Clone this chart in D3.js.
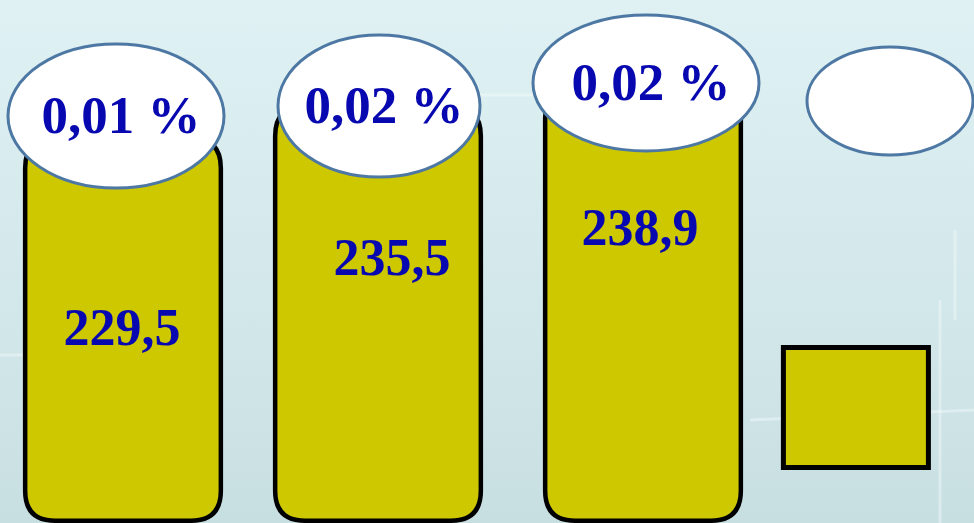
<!DOCTYPE html>
<html>
<head>
<meta charset="utf-8">
<script src="https://cdn.jsdelivr.net/npm/d3@7/dist/d3.min.js"></script>
<style>
  html, body { margin: 0; padding: 0; overflow: hidden; background: #d6eaed; }
  svg { display: block; }
</style>
</head>
<body>
<svg id="chart" width="974" height="523"></svg>
<script>
// ---- data ----
const categories = ["c1", "c2", "c3", "c4"];
const values = [229.5, 235.5, 238.9, null];
const valueLabels = ["229,5", "235,5", "238,9", ""];
const percentLabels = ["0,01 %", "0,02 %", "0,02 %", ""];

// ---- layout (decoration offsets, not data) ----
const barGrowLeft = [0, 10, 0, 0];
const capDx = [-7, -4, 3, -13];
const capDy = [-22, 0, -5, 0];
const capRx = [108, 101, 113, 83];
const capRy = [72, 71, 68, 54];
const labelDx = [-1, 9, -3, 0];
const labelDy = [207, 169, 157, 0];

const W = 974, H = 523;
const svg = d3.select("#chart");

// background
const defs = svg.append("defs");
const bg = defs.append("linearGradient").attr("id", "bg").attr("x1", 0).attr("y1", 0).attr("x2", 0).attr("y2", 1);
bg.append("stop").attr("offset", "0%").attr("stop-color", "#dff1f3");
bg.append("stop").attr("offset", "55%").attr("stop-color", "#d3e8eb");
bg.append("stop").attr("offset", "100%").attr("stop-color", "#c8dfe2");
svg.append("rect").attr("width", W).attr("height", H).attr("fill", "url(#bg)");

// faint background texture lines
const deco = svg.append("g").attr("fill", "none").attr("stroke", "#ffffff").attr("stroke-opacity", 0.35).attr("stroke-width", 3);
deco.append("path").attr("d", "M400,300 L400,120 Q400,95 425,95 L560,95");
deco.append("path").attr("d", "M0,355 L30,355");
deco.append("path").attr("d", "M750,420 L974,410");
deco.append("path").attr("d", "M940,300 L940,523");
deco.append("path").attr("d", "M955,230 L955,320");

// scales
const x = d3.scaleBand().domain(categories).range([-7, 1033]).paddingInner(0.23).paddingOuter(0.115);
const y = d3.scaleLinear().domain([157.3, 229.5]).range([H, 138]);

const barColor = "#cdc800";
const textColor = "#0808b0";
const sw = 4.5;

function barPath(x0, y0, w, h, r) {
  const x1 = x0 + w, y1 = y0 + h;
  return `M${x0},${y0 + r} Q${x0},${y0} ${x0 + r},${y0} L${x1 - r},${y0} Q${x1},${y0} ${x1},${y0 + r} ` +
         `L${x1},${y1 - r} Q${x1},${y1} ${x1 - r},${y1} L${x0 + r},${y1} Q${x0},${y1} ${x0},${y1 - r} Z`;
}

const data = categories.map((c, i) => ({ c, i, v: values[i], vl: valueLabels[i], pl: percentLabels[i] }));
const withVal = data.filter(d => d.v != null);

// bars
svg.append("g").selectAll("path").data(withVal).join("path")
  .attr("d", d => {
    const x0 = x(d.c) + sw / 2 - barGrowLeft[d.i], w = x.bandwidth() - sw + barGrowLeft[d.i];
    const y0 = y(d.v), h = (H - sw / 2) - y0;
    return barPath(x0, y0, w, h, 30);
  })
  .attr("fill", barColor).attr("stroke", "#000").attr("stroke-width", sw);

// value labels
svg.append("g").selectAll("text").data(withVal).join("text")
  .attr("x", d => x(d.c) + x.bandwidth() / 2 + labelDx[d.i])
  .attr("y", d => y(d.v) + labelDy[d.i])
  .attr("text-anchor", "middle")
  .attr("font-family", "'Liberation Serif', 'Times New Roman', serif")
  .attr("font-weight", "bold").attr("font-size", 52)
  .attr("fill", textColor)
  .text(d => d.vl);

// placeholder square under the 4th category
const c4 = data[3];
svg.append("rect")
  .attr("x", x(c4.c) - 19.5).attr("y", 347.5)
  .attr("width", 145).attr("height", 120)
  .attr("fill", barColor).attr("stroke", "#000").attr("stroke-width", 5);

// cap ellipses
const capY = d => (d.v != null ? y(d.v) : 101) + capDy[d.i];
const capX = d => x(d.c) + x.bandwidth() / 2 + capDx[d.i];
svg.append("g").selectAll("ellipse").data(data).join("ellipse")
  .attr("cx", capX).attr("cy", capY)
  .attr("rx", d => capRx[d.i]).attr("ry", d => capRy[d.i])
  .attr("fill", "#ffffff").attr("stroke", "#4e78a4").attr("stroke-width", 3);

// percent labels
svg.append("g").selectAll("text").data(data.filter(d => d.pl)).join("text")
  .attr("x", d => capX(d) + 5)
  .attr("y", d => capY(d) + 17)
  .attr("text-anchor", "middle")
  .attr("font-family", "'Liberation Serif', 'Times New Roman', serif")
  .attr("font-weight", "bold").attr("font-size", 53)
  .attr("fill", textColor)
  .text(d => d.pl);
</script>
</body>
</html>
